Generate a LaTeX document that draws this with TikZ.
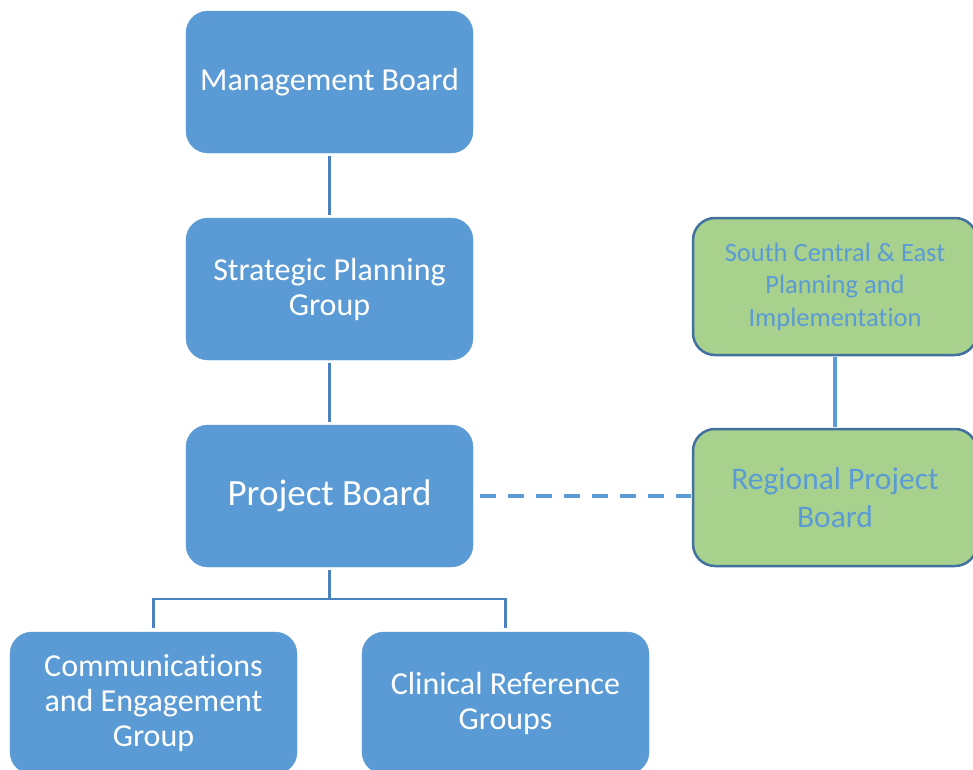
\documentclass[tikz,border=0pt]{standalone}
\usepackage{fontspec}
\setmainfont{Carlito}[Ligatures=NoCommon]
\definecolor{boxblue}{HTML}{5B9BD5}
\definecolor{darkblue}{HTML}{41719C}
\definecolor{treeblue}{HTML}{4A82C0}
\definecolor{boxgreen}{HTML}{A9D18E}
\tikzset{
  bluebox/.style={draw=boxblue, fill=boxblue, rounded corners=22pt, minimum width=287pt, minimum height=142pt, inner sep=0pt, text=white, align=center},
  greenbox/.style={draw=darkblue, line width=2.5pt, fill=boxgreen, rounded corners=22pt, minimum width=284pt, minimum height=137pt, inner sep=0pt, text=boxblue, align=center},
  treeline/.style={draw=treeblue, line width=2.6pt},
  linkline/.style={draw=boxblue, line width=3.5pt},
  dashline/.style={draw=boxblue, line width=4pt, dash pattern=on 16pt off 12pt},
  midfont/.style={font=\fontsize{32}{35}\selectfont},
  bigfont/.style={font=\fontsize{37}{38}\selectfont},
  regfont/.style={font=\fontsize{31.5}{38}\selectfont},
  smallfont/.style={font=\fontsize{26.5}{32.5}\selectfont}
}
\begin{document}
\begin{tikzpicture}[x=1pt,y=-1pt]
\clip (0,0) rectangle (973,769);
\fill[white] (0,0) rectangle (973,769);
\node[bluebox, midfont] (mb) at (329.5,82) {Management Board};
\node[bluebox, midfont] (spg) at (329.5,289) {Strategic Planning\\Group};
\node[bluebox, bigfont] (pb) at (329.5,496) {Project Board};
\node[bluebox, midfont] (ceg) at (153.5,703) {Communications\\and Engagement\\Group};
\node[bluebox, midfont] (crg) at (505.5,703) {Clinical Reference\\Groups};
\node[greenbox, smallfont] (sce) at (835,286.5) {South Central \& East\\Planning and\\Implementation};
\node[greenbox, regfont] (rpb) at (835,497.5) {Regional Project\\Board};
\coordinate (hub) at (329.5,599);
\draw[treeline, shorten <=3pt, shorten >=3pt] (mb) -- (spg);
\draw[treeline, shorten <=3pt, shorten >=3pt] (spg) -- (pb);
\draw[treeline] ([yshift=-3pt]pb.south) -- (hub);
\draw[treeline] ([yshift=4pt]ceg.north) |- (hub) -| ([yshift=4pt]crg.north);
\draw[linkline, shorten <=1pt, shorten >=1pt] (sce) -- (rpb);
\draw[dashline, shorten <=7pt, shorten >=1pt] (pb.east) -- (pb.east -| rpb.west);
\end{tikzpicture}
\end{document}
